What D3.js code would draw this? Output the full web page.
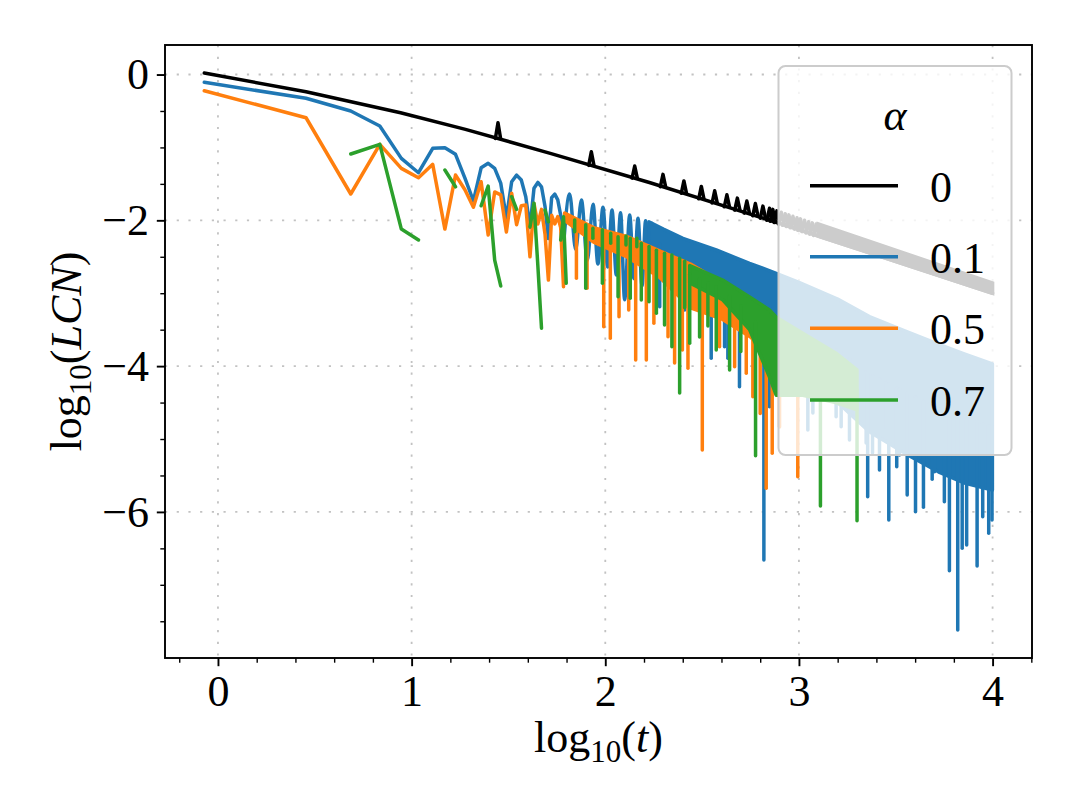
<!DOCTYPE html>
<html><head><meta charset="utf-8">
<script src="https://cdn.jsdelivr.net/npm/d3@7"></script>
<style>
body{margin:0;background:#fff}
svg{display:block}
text{font-family:"Liberation Serif","DejaVu Serif",serif}
</style>
</head><body>
<svg id="chart" width="1079" height="809"></svg>
<script>
// ---------------- data (x = log10(t), y = log10(LCN)) ----------------
const xTicks = [0, 1, 2, 3, 4];
const yTicks = [0, -2, -4, -6];
const legendTitle = "α";
const legendLabels = ["0", "0.1", "0.5", "0.7"];

// alpha = 0 (black)
const blackLine = [[-0.0706,0.02],[0.4548,-0.236],[0.943,-0.524],[1.278,-0.752],[1.716,-1.081],[2.232,-1.484],[2.885,-2.03],[4.0,-3.0]];
const blackSpikes = [[1.446,-0.661],[1.928,-1.059],[2.152,-1.255],[2.298,-1.37],[2.406,-1.46],[2.496,-1.535],[2.565,-1.595],[2.628,-1.65],[2.682,-1.695],[2.731,-1.735],[2.775,-1.77],[2.814,-1.805],[2.848,-1.835],[2.865,-1.85],[2.886,-1.87],[2.909,-1.89],[2.929,-1.91],[2.948,-1.925],[2.969,-1.945],[2.990,-1.965],[3.008,-1.98],[3.029,-2.0],[3.050,-2.02],[3.069,-2.035],[3.089,-2.05]];
const blackComb = [[3.10,-2.05],[4.0,-2.86]];

// alpha = 0.1 (blue)
const blueLine = [[-0.0706,-0.107],[0.4548,-0.326],[0.6857,-0.50],[0.8357,-0.706],[0.9469,-1.15],[1.0354,-1.347],[1.1089,-1.012],[1.1718,-1.004],[1.2266,-1.095],[1.2753,-1.42],[1.3191,-1.735],[1.3589,-1.28],[1.3953,-1.218],[1.4289,-1.287],[1.4601,-1.49],[1.4893,-1.97],[1.5166,-1.47],[1.5422,-1.38],[1.5664,-1.447],[1.5894,-1.676],[1.6112,-2.10],[1.6319,-1.56],[1.6518,-1.48],[1.6707,-1.54],[1.6889,-1.81],[1.7063,-2.25],[1.7231,-1.69],[1.7392,-1.64],[1.7547,-1.72],[1.7697,-1.93],[1.7843,-2.35]];
const blueArches = [[1.7843,-2.35],[1.816,-1.639],[1.847,-2.40],[1.877,-1.722],[1.907,-2.55],[1.937,-1.781],[1.962,-2.60],[1.988,-1.822],[2.012,-2.64],[2.035,-1.859],[2.057,-2.75],[2.079,-1.896],[2.10,-3.09],[2.126,-1.927],[2.148,-2.8],[2.169,-1.973],[2.19,-2.9],[2.208,-2.006],[2.225,-2.7],[2.24,-2.04]];
const blueBand = [[2.225,-2.02,-2.3],[2.30,-2.12,-2.65],[2.401,-2.247,-2.95],[2.573,-2.407,-3.2],[2.745,-2.59,-3.5],[2.883,-2.727,-3.8],[3.0,-2.85,-4.2],[3.2,-3.08,-4.5],[3.364,-3.32,-4.9],[3.55,-3.52,-5.2],[3.72,-3.70,-5.45],[3.85,-3.83,-5.6],[3.999,-3.971,-5.7]];
const blueSpikes = [[2.281,-3.185],[2.410,-3.23],[2.547,-3.893],[2.616,-3.734],[2.633,-3.893],[2.693,-4.283],[2.819,-6.66],[2.848,-4.557],[3.012,-4.369],[3.046,-4.877],[3.072,-4.643],[3.192,-4.694],[3.218,-4.831],[3.261,-5.014],[3.347,-5.055],[3.355,-5.791],[3.380,-5.192],[3.416,-5.425],[3.450,-4.831],[3.464,-6.111],[3.505,-5.38],[3.519,-5.22],[3.559,-5.768],[3.602,-5.997],[3.605,-5.22],[3.643,-5.937],[3.674,-5.26],[3.688,-5.553],[3.70,-5.45],[3.751,-5.86],[3.777,-6.807],[3.820,-7.62],[3.843,-6.499],[3.866,-6.454],[3.920,-6.742],[3.949,-6.066],[3.980,-6.293],[3.997,-6.111]];

// alpha = 0.5 (orange)
const orangeLine = [[-0.0706,-0.222],[0.4548,-0.593],[0.6857,-1.639],[0.8357,-0.958],[0.9469,-1.287],[1.0354,-1.416],[1.1089,-1.232],[1.1718,-2.12],[1.2266,-1.379],[1.2753,-1.58],[1.3191,-1.82],[1.3589,-1.47],[1.3953,-2.20],[1.4289,-1.61],[1.4601,-1.65],[1.4893,-2.16],[1.5166,-1.63],[1.5422,-2.06],[1.5664,-1.80],[1.5894,-1.79],[1.6112,-2.50],[1.6319,-1.77],[1.6518,-2.05],[1.6707,-1.85],[1.6889,-2.19],[1.7063,-2.82],[1.7231,-1.93],[1.7392,-2.05],[1.7547,-1.95],[1.7697,-2.10],[1.7843,-2.91]];
const orangeBand = [[1.79,-1.90,-2.0],[1.94,-2.10,-2.3],[2.11,-2.22,-2.5],[2.28,-2.42,-2.78],[2.44,-2.6,-3.2],[2.60,-2.85,-3.35],[2.75,-3.1,-3.6],[2.90,-3.4,-4.0],[3.0,-3.7,-4.3]];
const orangeSpikes = [[1.851,-2.796],[1.906,-2.933],[1.992,-3.46],[2.026,-3.619],[2.071,-3.322],[2.121,-3.23],[2.157,-3.916],[2.212,-3.916],[2.251,-3.413],[2.324,-3.597],[2.358,-3.957],[2.398,-3.779],[2.427,-4.03],[2.501,-5.151],[2.590,-3.734],[2.668,-4.008],[2.728,-4.099],[2.762,-4.42],[2.80,-4.65],[2.831,-5.676],[2.862,-5.196],[2.90,-4.835],[2.994,-5.517]];

// alpha = 0.7 (green) - gaps marked with null
const greenLine = [[0.6857,-1.09],[0.8357,-0.958],[0.9469,-2.12],[1.0354,-2.27],null,[1.1718,-1.31],[1.2266,-1.54],null,[1.3589,-1.80],[1.3953,-1.53],[1.4289,-2.545],[1.4601,-2.90],null,[1.5166,-1.676],[1.5422,-1.85],null,[1.6112,-2.09],[1.6319,-1.767],[1.6518,-2.62],[1.6707,-3.48],null,[1.6889,-1.86],[1.7063,-2.02],null,[1.7697,-2.27],[1.7843,-1.95],[1.7983,-2.864]];
const greenBars = [[1.842,-1.996,-2.156],[1.899,-2.06,-2.933],[1.936,-2.11,-2.247],[1.985,-2.13,-2.864],[2.028,-2.178,-2.315],[2.066,-2.225,-3.048],[2.107,-2.215,-2.339],[2.129,-2.247,-3.07],[2.163,-2.247,-2.362],[2.186,-2.315,-3.093],[2.226,-2.36,-3.117],[2.264,-2.41,-3.276],[2.306,-2.453,-3.436],[2.344,-2.476,-3.734],[2.384,-2.52,-4.37],[2.41,-2.56,-3.2]];
const greenBand = [[2.436,-2.62,-2.86],[2.606,-2.82,-3.09],[2.745,-3.05,-3.5],[2.848,-3.23,-4.15],[2.883,-3.33,-4.4],[3.02,-3.55,-4.4],[3.19,-3.82,-4.5],[3.30,-4.05,-4.6]];
const greenSpikes = [[2.436,-3.687],[2.487,-3.6],[2.530,-3.45],[2.573,-3.78],[2.642,-4.053],[2.70,-3.8],[2.776,-5.23],[3.111,-5.919],[3.30,-6.12]];

// ---------------- drawing ----------------
const svg = d3.select("#chart");
const L = 165, R = 1032, T = 45, B = 658;
const x = d3.scaleLinear().domain([-0.2735, 4.2035]).range([L, R]);
const y = d3.scaleLinear().domain([-8.004, 0.405]).range([B, T]);
const LW = 3.5;
const C = {black:"#000000", blue:"#1f77b4", orange:"#ff7f0e", green:"#2ca02c"};
const FONT = 44;

// grid
const grid = svg.append("g").attr("stroke","#c2c2c2").attr("stroke-width",1.8).attr("stroke-dasharray","2.2,9.5");
xTicks.forEach(v => grid.append("line").attr("x1",x(v)).attr("x2",x(v)).attr("y1",T).attr("y2",B));
yTicks.forEach(v => grid.append("line").attr("y1",y(v)).attr("y2",y(v)).attr("x1",L).attr("x2",R));

svg.append("defs").append("clipPath").attr("id","clip")
  .append("rect").attr("x",L).attr("y",T).attr("width",R-L).attr("height",B-T);
const plot = svg.append("g").attr("clip-path","url(#clip)");

const lin = d3.line().defined(d => d != null).x(d => x(d[0])).y(d => y(d[1]));
const mono = d3.line().curve(d3.curveMonotoneX).x(d => x(d[0])).y(d => y(d[1]));
const band = d3.area().x(d => x(d[0])).y0(d => y(d[2])).y1(d => y(d[1]));

function strokePath(d, color){
  plot.append("path").attr("d", d).attr("fill","none").attr("stroke",color)
    .attr("stroke-width",LW).attr("stroke-linejoin","round").attr("stroke-linecap","round");
}
function fillBand(data, color){
  plot.append("path").attr("d", band(data)).attr("fill",color).attr("stroke",color)
    .attr("stroke-width",LW).attr("stroke-linejoin","round");
}
function bandSpikes(bandData, spikes, color){
  const top = d3.scaleLinear().domain(bandData.map(d=>d[0])).range(bandData.map(d=>d[1])).clamp(true);
  const bot = d3.scaleLinear().domain(bandData.map(d=>d[0])).range(bandData.map(d=>d[2])).clamp(true);
  spikes.forEach(s => {
    const y0 = (top(s[0]) + bot(s[0])) / 2;
    strokePath(`M${x(s[0])},${y(y0)}L${x(s[0])},${y(s[1])}`, color);
  });
}

// black
const blackBase = d3.scaleLinear().domain(blackLine.map(d=>d[0])).range(blackLine.map(d=>d[1]));
strokePath(lin(blackLine), C.black);
blackSpikes.forEach(s => {
  const xp = x(s[0]), yb = y(blackBase(s[0]));
  strokePath(`M${xp-2.6},${yb}L${xp},${y(s[1])}L${xp+2.6},${yb}`, C.black);
});
const combArea = d3.area().x(d => x(d[0])).y0(d => y(blackBase(d[0]))).y1(d => y(d[1]));
plot.append("path").attr("d", combArea(blackComb)).attr("fill",C.black).attr("stroke",C.black).attr("stroke-width",LW);

// blue
strokePath(lin(blueLine), C.blue);
strokePath(mono(blueArches), C.blue);
fillBand(blueBand, C.blue);
bandSpikes(blueBand, blueSpikes, C.blue);

// orange
strokePath(lin(orangeLine), C.orange);
fillBand(orangeBand, C.orange);
bandSpikes(orangeBand, orangeSpikes, C.orange);

// green
strokePath(lin(greenLine), C.green);
greenBars.forEach(b => strokePath(`M${x(b[0])},${y(b[1])}L${x(b[0])},${y(b[2])}`, C.green));
fillBand(greenBand, C.green);
bandSpikes(greenBand, greenSpikes, C.green);

// axes
const fmt = d => d < 0 ? "\u2212" + Math.abs(d) : String(d);
function styleAxis(g){
  g.select(".domain").remove();
  g.attr("font-family",'"Liberation Serif","DejaVu Serif",serif').attr("font-size",FONT);
  g.selectAll(".tick line").attr("stroke","#000").attr("stroke-width",1.9);
  g.selectAll(".tick text").attr("fill","#000");
}
const xMinor = d3.range(-0.2, 4.25, 0.2).filter(v => Math.abs(v - Math.round(v)) > 1e-6);
const yMinor = d3.range(-8, 0.01, 0.5).filter(v => Math.abs(v/2 - Math.round(v/2)) > 1e-6);

svg.append("g").attr("transform",`translate(0,${B})`)
  .call(d3.axisBottom(x).tickValues(xMinor).tickSize(4.7).tickSizeOuter(0).tickFormat(""))
  .call(g => { g.select(".domain").remove(); g.selectAll(".tick line").attr("stroke","#000").attr("stroke-width",1.4); });
svg.append("g").attr("transform",`translate(${L},0)`)
  .call(d3.axisLeft(y).tickValues(yMinor).tickSize(4.7).tickSizeOuter(0).tickFormat(""))
  .call(g => { g.select(".domain").remove(); g.selectAll(".tick line").attr("stroke","#000").attr("stroke-width",1.4); });

svg.append("g").attr("transform",`translate(0,${B})`)
  .call(d3.axisBottom(x).tickValues(xTicks).tickSize(8.2).tickPadding(8.6).tickSizeOuter(0).tickFormat(fmt))
  .call(styleAxis);
svg.append("g").attr("transform",`translate(${L},0)`)
  .call(d3.axisLeft(y).tickValues(yTicks).tickSize(8.2).tickPadding(7.8).tickSizeOuter(0).tickFormat(fmt))
  .call(styleAxis);

// frame
svg.append("rect").attr("x",L).attr("y",T).attr("width",R-L).attr("height",B-T)
  .attr("fill","none").attr("stroke","#000").attr("stroke-width",1.9);

// axis labels
function mathLabel(sel, inner){
  sel.append("tspan").text("log");
  sel.append("tspan").attr("font-size",31).attr("dy",10).text("10");
  sel.append("tspan").attr("font-size",FONT).attr("dy",-10).text("(");
  sel.append("tspan").attr("font-style","italic").text(inner);
  sel.append("tspan").text(")");
}
const xl = svg.append("text").attr("x",(L+R)/2).attr("y",752).attr("text-anchor","middle")
  .attr("font-size",FONT).attr("fill","#000");
mathLabel(xl, "t");
const yl = svg.append("text").attr("transform",`translate(81,${(T+B)/2}) rotate(-90)`)
  .attr("text-anchor","middle").attr("font-size",FONT).attr("fill","#000");
mathLabel(yl, "LCN");

// legend
const lg = svg.append("g");
lg.append("rect").attr("x",778.5).attr("y",66).attr("width",233).attr("height",389).attr("rx",7)
  .attr("fill","#fff").attr("fill-opacity",0.8).attr("stroke","#cccccc").attr("stroke-width",2);
lg.append("text").attr("x",895).attr("y",130).attr("text-anchor","middle").attr("font-size",FONT)
  .attr("font-style","italic").attr("fill","#000").text(legendTitle);
const legendColors = [C.black, C.blue, C.orange, C.green];
const rowY = [185.7, 256.7, 328.3, 400];
legendLabels.forEach((lab, i) => {
  lg.append("line").attr("x1",810).attr("x2",898).attr("y1",rowY[i]).attr("y2",rowY[i])
    .attr("stroke",legendColors[i]).attr("stroke-width",LW);
  lg.append("text").attr("x",930).attr("y",rowY[i]+16).attr("font-size",FONT).attr("fill","#000").text(lab);
});
</script>
</body></html>
